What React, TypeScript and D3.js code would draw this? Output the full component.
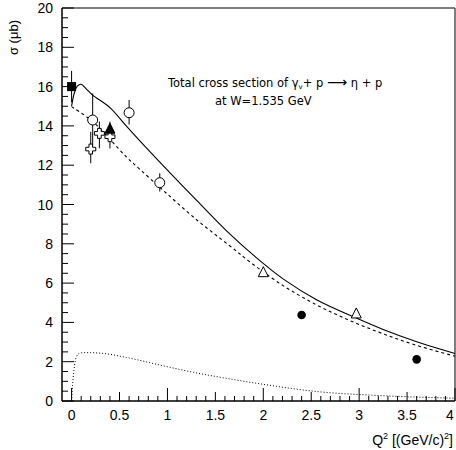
import React from "react";
import * as d3 from "d3";

// Curves (Q^2 in (GeV/c)^2, sigma in microbarn)
const solidQ = [0, 0.03, 0.06, 0.1, 0.15, 0.22, 0.4, 0.57, 0.71, 0.96, 1.31, 1.65, 1.93, 2.21, 2.56, 2.97, 3.25, 3.6, 4.0];
const solidS = [15.0, 15.7, 16.02, 16.12, 15.9, 15.57, 14.93, 14.0, 13.25, 11.95, 10.18, 8.5, 7.28, 6.2, 5.14, 4.22, 3.64, 3.02, 2.42];
const dashedQ = [0, 0.22, 0.57, 0.71, 0.96, 1.31, 1.65, 1.86, 2.21, 2.56, 2.91, 3.25, 3.6, 4.0];
const dashedS = [14.98, 14.22, 12.43, 11.8, 10.7, 9.2, 7.9, 7.08, 5.86, 4.88, 4.08, 3.42, 2.83, 2.28];
const dottedQ = [0, 0.01, 0.025, 0.05, 0.08, 0.12, 0.2, 0.33, 0.57, 0.92, 1.27, 1.62, 1.96, 2.56, 3.25, 4.0];
const dottedS = [0, 0.8, 1.58, 2.25, 2.42, 2.46, 2.46, 2.42, 2.22, 1.83, 1.46, 1.15, 0.88, 0.48, 0.27, 0.14];

// Data points: [Q2, sigma, errLow, errHigh]
const filledSquares = [[0, 16.0, 0.8, 0.8]];
const openCircles = [[0.22, 14.3, 1.3, 1.35], [0.6, 14.67, 0.6, 0.65], [0.92, 11.11, 0.45, 0.48]];
const openCrosses = [[0.2, 12.82, 0.72, 0.88], [0.29, 13.62, 0.76, 0.6], [0.4, 13.45, 0.6, 0.5]];
const filledTriangles = [[0.4, 13.83, 0.3, 0.38]];
const openTriangles = [[2.0, 6.53, 0.2, 0.2], [2.97, 4.43, 0.15, 0.15]];
const filledCircles = [[2.4, 4.38, 0, 0], [3.6, 2.12, 0, 0]];

const xMajor = [0, 0.5, 1, 1.5, 2, 2.5, 3, 3.5, 4];
const xMajorLabels = ["0", "0.5", "1", "1.5", "2", "2.5", "3", "3.5", "4"];
const yMajor = [0, 2, 4, 6, 8, 10, 12, 14, 16, 18, 20];

export default function App() {
  const W = 456, H = 450;
  const x = d3.scaleLinear().domain([-0.1, 4]).range([62, 455]);
  const y = d3.scaleLinear().domain([0, 20]).range([401, 8]);
  const smooth = d3.line<[number, number]>().x(d => x(d[0])).y(d => y(d[1])).curve(d3.curveCatmullRom.alpha(0.5));
  const mono = d3.line<[number, number]>().x(d => x(d[0])).y(d => y(d[1])).curve(d3.curveMonotoneX);
  const mk = (q: number[], s: number[]) => q.map((v, i) => [v, s[i]] as [number, number]);

  const xMinor = d3.range(0, 41).map(i => i / 10).filter(v => Math.abs(v * 2 - Math.round(v * 2)) > 1e-6);
  const yMinor = d3.range(0, 41).map(i => i / 2).filter(v => v % 2 !== 0);
  const xTertiary = [0, 1, 2, 3, 4];

  const font = "Liberation Sans, Arial, sans-serif";
  const errBar = (d: number[], key: string) => (
    d[2] > 0 || d[3] > 0 ? (
      <line key={key} x1={x(d[0])} x2={x(d[0])} y1={y(d[1] - d[2])} y2={y(d[1] + d[3])} stroke="#000" strokeWidth={1} />
    ) : null
  );
  const crossPath = (cx: number, cy: number) => {
    const a = 5, b = 1.8;
    return `M${cx - b},${cy - a}L${cx + b},${cy - a}L${cx + b},${cy - b}L${cx + a},${cy - b}L${cx + a},${cy + b}L${cx + b},${cy + b}L${cx + b},${cy + a}L${cx - b},${cy + a}L${cx - b},${cy + b}L${cx - a},${cy + b}L${cx - a},${cy - b}L${cx - b},${cy - b}Z`;
  };
  const triPath = (cx: number, cy: number) => {
    const h = 10, w = 10;
    return `M${cx},${cy - h * 0.6}L${cx + w / 2},${cy + h * 0.4}L${cx - w / 2},${cy + h * 0.4}Z`;
  };

  return (
    <svg width={W} height={H} style={{ position: "absolute", left: 0, top: 0, background: "#fff" }} fontFamily={font}>
      <rect x={0} y={0} width={W} height={H} fill="#fff" />
      {/* frame */}
      <line x1={62} x2={455} y1={8} y2={8} stroke="#000" strokeWidth={1.2} />
      <line x1={455} x2={455} y1={8} y2={401} stroke="#555" strokeWidth={1.5} />
      <line x1={62} x2={62} y1={8} y2={401} stroke="#000" strokeWidth={1.5} />
      <line x1={62} x2={455} y1={401} y2={401} stroke="#000" strokeWidth={1.5} />

      {/* y ticks */}
      {yMajor.map(v => (
        <g key={"ym" + v}>
          <line x1={62} x2={74} y1={y(v)} y2={y(v)} stroke="#000" strokeWidth={1} />
          <text x={53} y={y(v) + 5} textAnchor="end" fontSize={14}>{v}</text>
        </g>
      ))}
      {yMinor.map(v => (
        <line key={"yn" + v} x1={62} x2={68} y1={y(v)} y2={y(v)} stroke="#000" strokeWidth={1} />
      ))}
      {/* x ticks */}
      {xMajor.map((v, i) => (
        <g key={"xm" + v}>
          <line x1={x(v)} x2={x(v)} y1={401} y2={xTertiary.includes(v) ? 388 : 392} stroke="#000" strokeWidth={1} />
          <text x={Math.min(x(v), 450)} y={420} textAnchor="middle" fontSize={14}>{xMajorLabels[i]}</text>
        </g>
      ))}
      {xMinor.map(v => (
        <line key={"xn" + v} x1={x(v)} x2={x(v)} y1={401} y2={396} stroke="#000" strokeWidth={1} />
      ))}

      {/* axis titles */}
      <text transform="translate(18,20) rotate(-90)" textAnchor="end" fontSize={13}>σ (μb)</text>
      <text x={453} y={445} textAnchor="end" fontSize={14}>
        Q<tspan dy={-6} fontSize={9}>2</tspan><tspan dy={6}> [(GeV/c)</tspan><tspan dy={-6} fontSize={9}>2</tspan><tspan dy={6}>]</tspan>
      </text>

      {/* annotation */}
      <g fontFamily="DejaVu Sans, sans-serif" fontSize={11.5}>
        <text x={168} y={87}>
          Total cross section of γ<tspan dy={2} fontSize={7}>v</tspan><tspan dy={-2}>+ p </tspan>
          <tspan fontSize={14}>⟶</tspan><tspan> η + p</tspan>
        </text>
        <text x={215} y={105}>at W=1.535 GeV</text>
      </g>

      {/* curves */}
      <path d={smooth(mk(solidQ, solidS)) || ""} fill="none" stroke="#000" strokeWidth={1.1} />
      <path d={smooth(mk(dashedQ, dashedS)) || ""} fill="none" stroke="#000" strokeWidth={1.1} strokeDasharray="3,3" />
      <path d={mono(mk(dottedQ, dottedS)) || ""} fill="none" stroke="#000" strokeWidth={1} strokeDasharray="1,2" />

      {/* error bars */}
      {[...filledSquares, ...openCircles, ...openCrosses, ...filledTriangles, ...openTriangles, ...filledCircles].map((d, i) => errBar(d, "e" + i))}

      {/* markers */}
      {filledSquares.map((d, i) => (
        <rect key={"fs" + i} x={x(d[0]) - 4.5} y={y(d[1]) - 4.5} width={9} height={9} fill="#000" />
      ))}
      {openCircles.map((d, i) => (
        <circle key={"oc" + i} cx={x(d[0])} cy={y(d[1])} r={5} fill="#fff" stroke="#000" strokeWidth={1} />
      ))}
      {openCrosses.map((d, i) => (
        <path key={"ox" + i} d={crossPath(x(d[0]), y(d[1]))} fill="#fff" stroke="#000" strokeWidth={1} />
      ))}
      {filledTriangles.map((d, i) => (
        <path key={"ft" + i} d={triPath(x(d[0]), y(d[1]))} fill="#000" stroke="#000" strokeWidth={1} />
      ))}
      {openTriangles.map((d, i) => (
        <path key={"ot" + i} d={triPath(x(d[0]), y(d[1]))} fill="#fff" stroke="#000" strokeWidth={1} />
      ))}
      {filledCircles.map((d, i) => (
        <circle key={"fc" + i} cx={x(d[0])} cy={y(d[1])} r={4.3} fill="#000" />
      ))}
    </svg>
  );
}
